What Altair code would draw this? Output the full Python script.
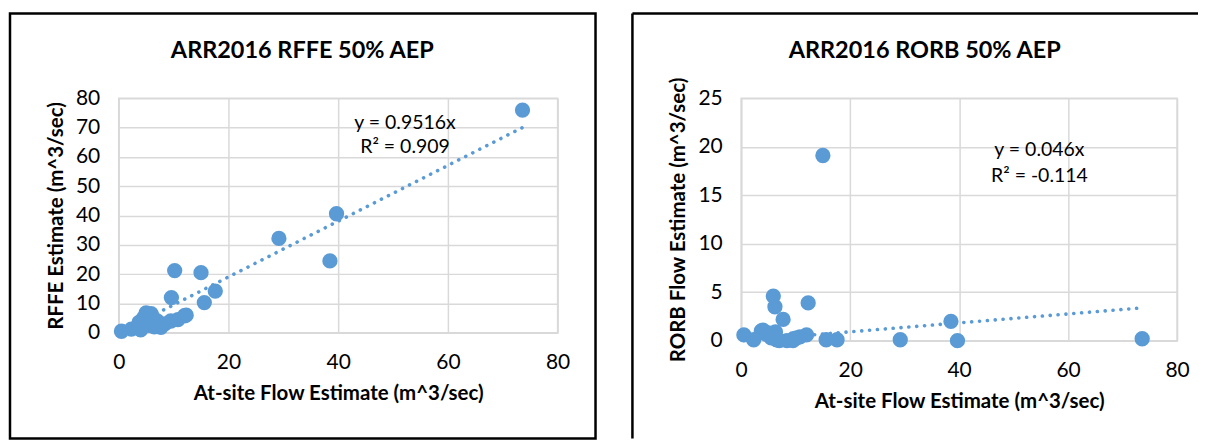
import altair as alt
import pandas as pd

# ---- data ----
at_site = [0.5, 2.3, 3.7, 4.0, 4.5, 5.0, 5.5, 5.9, 6.2, 6.3, 6.5, 7.0, 7.7, 8.4,
           9.5, 9.6, 10.2, 10.8, 12.0, 12.3, 15.0, 15.6, 17.6, 29.2, 38.5, 39.7, 73.6]
rffe = [0.5, 1.2, 3.5, 1.0, 5.0, 6.8, 2.5, 6.5, 3.0, 5.0, 2.0, 4.0, 1.8, 3.0,
        4.0, 12.0, 21.2, 4.5, 5.8, 6.0, 20.5, 10.3, 14.2, 32.2, 24.5, 40.6, 76.0]
rorb = [0.6, 0.1, 1.0, 1.1, 0.7, 0.8, 0.3, 4.6, 3.5, 0.9, 0.1, 0.0, 2.2, 0.0,
        0.0, 0.2, 0.3, 0.4, 0.6, 3.9, 19.1, 0.1, 0.1, 0.1, 2.0, 0.0, 0.2]

trend_x = [0.5, 73.6]
trend_rffe = [0.48, 70.04]
trend_rorb = [0.02, 3.39]

left_eq = ["y = 0.9516x", "R² = 0.909"]
right_eq = ["y = 0.046x", "R² = -0.114"]

titles = ["ARR2016 RFFE 50% AEP", "ARR2016 RORB 50% AEP"]
x_title = "At-site Flow Estimate (m^3/sec)"
y_titles = ["RFFE Estimate (m^3/sec)", "RORB Flow Estimate (m^3/sec)"]

FONT = "Lato"
BLUE = "#5B9BD5"
GRID = "#D9D9D9"

pts = pd.DataFrame({"x": at_site, "rffe": rffe, "rorb": rorb})
trend = pd.DataFrame({"x": trend_x, "rffe": trend_rffe, "rorb": trend_rorb})
one = pd.DataFrame({"k": [0]})


def panel(ycol, ymax, ystep, W, H, title, ytitle, eq, eq_x, eq_y, full_box, right_ext, bottom_ext):
    xs = alt.Scale(domain=[0, 80], nice=False)
    ys = alt.Scale(domain=[0, ymax], nice=False)
    xax = alt.Axis(values=[0, 20, 40, 60, 80], title=x_title, labelPadding=19,
                   titlePadding=11, labelFlush=False, labelOverlap=False)
    yax = alt.Axis(values=list(range(0, ymax + 1, ystep)), title=ytitle,
                   labelPadding=19, titlePadding=9, labelFlush=False,
                   labelOverlap=False)
    line = alt.Chart(trend).mark_line(
        color=BLUE, strokeWidth=3.6, strokeDash=[0.1, 7.8], strokeCap="round"
    ).encode(x=alt.X("x:Q", scale=xs, axis=xax),
             y=alt.Y(f"{ycol}:Q", scale=ys, axis=yax))
    points = alt.Chart(pts).mark_circle(size=235, color=BLUE, opacity=1).encode(
        x=alt.X("x:Q", scale=xs, axis=xax),
        y=alt.Y(f"{ycol}:Q", scale=ys, axis=yax),
    )
    t = alt.Chart(one).mark_text(font=FONT, fontSize=23.5, fontWeight="bold",
                                 color="#000000", align="center",
                                 baseline="alphabetic").encode(
        x=alt.value(184), y=alt.value(-40), text=alt.value(title))
    e1 = alt.Chart(one).mark_text(font=FONT, fontSize=19.5, color="#000000",
                                  align="center", baseline="middle").encode(
        x=alt.value(eq_x), y=alt.value(eq_y[0]), text=alt.value(eq[0]))
    e2 = alt.Chart(one).mark_text(font=FONT, fontSize=19.5, color="#000000",
                                  align="center", baseline="middle").encode(
        x=alt.value(eq_x), y=alt.value(eq_y[1]), text=alt.value(eq[1]))
    layers = [line, points, t, e1, e2]
    if full_box:
        box = alt.Chart(one).mark_rect(filled=False, stroke="#000000",
                                       strokeWidth=2.5).encode(
            x=alt.value(-109), x2=alt.value(W + right_ext),
            y=alt.value(-85), y2=alt.value(H + bottom_ext))
        layers = layers + [box]
    else:
        top = alt.Chart(one).mark_rule(stroke="#000000", strokeWidth=2.5).encode(
            x=alt.value(-109), x2=alt.value(W + right_ext), y=alt.value(-85))
        left = alt.Chart(one).mark_rule(stroke="#000000", strokeWidth=2.5).encode(
            x=alt.value(-109), y=alt.value(-85), y2=alt.value(H + bottom_ext))
        layers = layers + [top, left]
    return alt.layer(*layers).properties(width=W, height=H)


left = panel("rffe", 80, 10, 440, 235, titles[0], y_titles[0], left_eq,
             287, [25, 49], True, 38, 106)
right = panel("rorb", 25, 5, 437, 243, titles[1], y_titles[1], right_eq,
              299, [52, 78], False, 21, 98)

chart = alt.hconcat(left, right, spacing=33).properties(
    padding={"left": 0, "top": 3, "right": 0, "bottom": 0}
).configure_view(stroke=GRID, strokeWidth=1.5).configure_axis(
    domainColor=GRID, domainWidth=1.5, gridColor=GRID, gridWidth=1.5,
    ticks=False, labelFont=FONT, labelFontSize=21, labelColor="#000000",
    titleFont=FONT, titleFontSize=20.5, titleFontWeight="bold", titleColor="#000000",
    grid=True
)

chart.save("out.html", embed_options={"renderer": "svg", "actions": False})
